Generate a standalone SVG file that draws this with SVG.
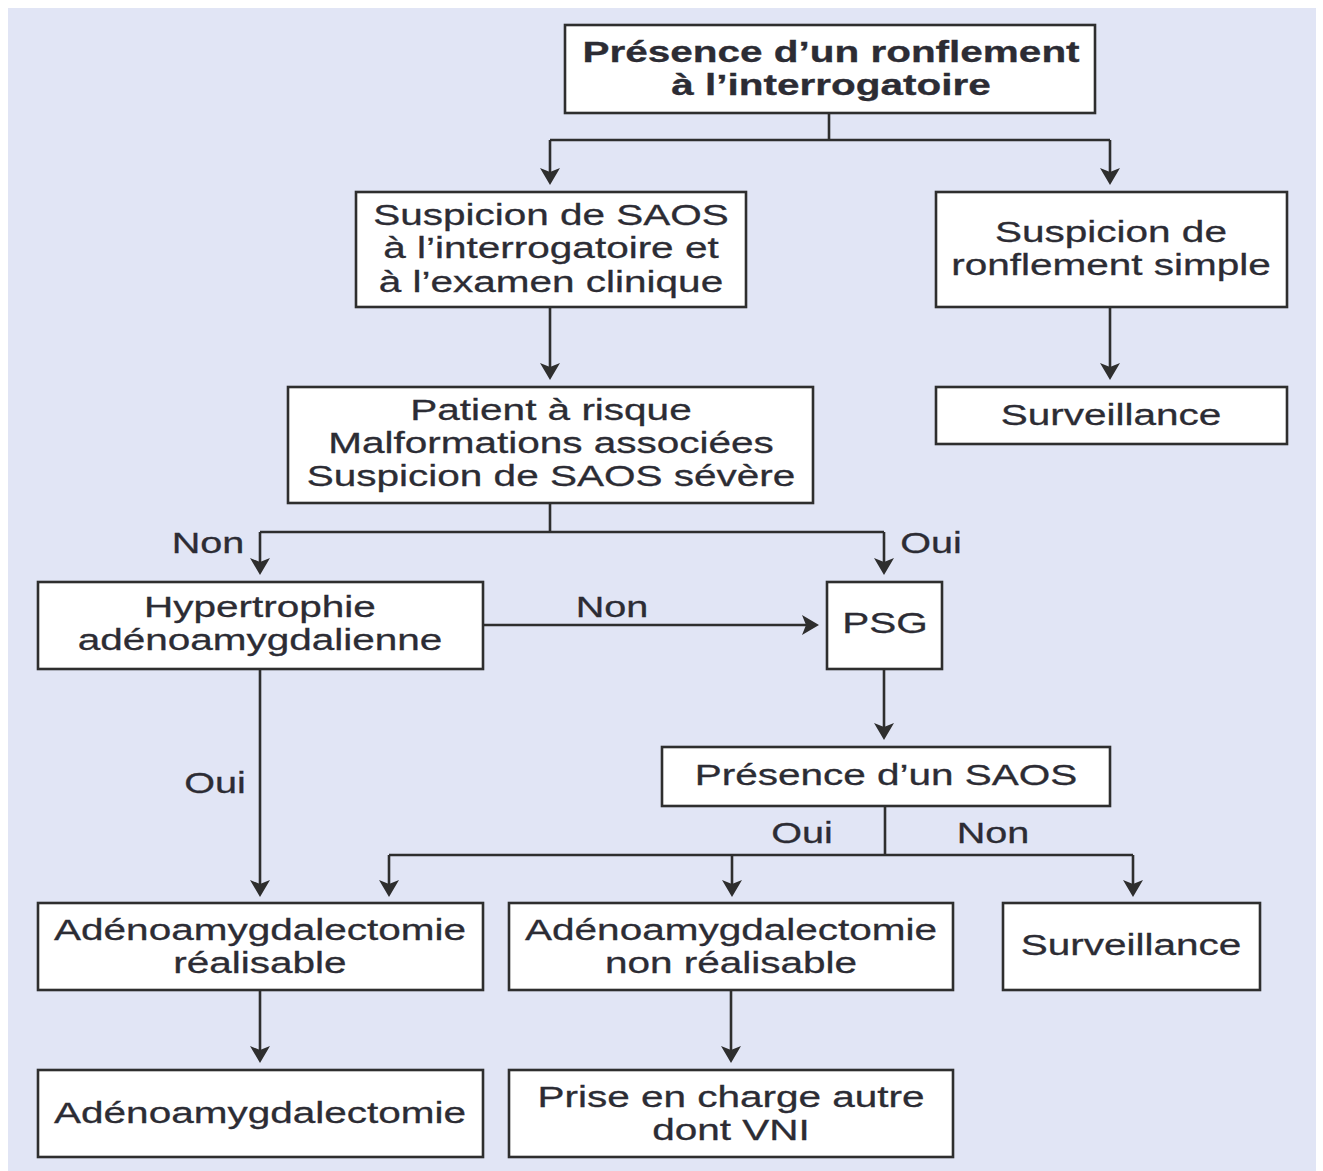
<svg xmlns="http://www.w3.org/2000/svg" width="1323" height="1171" viewBox="0 0 1323 1171">
  <defs>
    <style>
      .box { fill: #ffffff; stroke: #2e2e2e; stroke-width: 2.6; }
      .wire { fill: none; stroke: #2e2e2e; stroke-width: 2.6; }
      .arrow { marker-end: url(#head); }
      text { font-family: "Liberation Sans", Arial, sans-serif; font-size: 30px; fill: #2c2c34; text-anchor: middle; stroke: #2c2c34; stroke-width: 0.3; }
      .bold { font-weight: bold; }
    </style>
    <marker id="head" markerUnits="userSpaceOnUse" viewBox="-14 -11 19 22" markerWidth="19" markerHeight="22" refX="0" refY="0" orient="auto" overflow="visible">
      <path d="M4,0 L-13,-10 L-9,0 L-13,10 Z" fill="#2e2e2e"/>
    </marker>
  </defs>

  <!-- page -->
  <rect x="0" y="0" width="1323" height="1171" fill="#ffffff"/>
  <rect x="8" y="8" width="1308" height="1163" fill="#e1e5f5"/>

  <!-- connectors -->
  <g id="connectors">
    <path class="wire" d="M829,113 V140 M550,140 H1110"/>
    <path class="wire arrow" d="M550,140 V181"/>
    <path class="wire arrow" d="M1110,140 V181"/>
    <path class="wire arrow" d="M550,307 V376"/>
    <path class="wire arrow" d="M1110,307 V376"/>
    <path class="wire" d="M550,503 V532 M260,532 H884"/>
    <path class="wire arrow" d="M260,532 V571"/>
    <path class="wire arrow" d="M884,532 V571"/>
    <path class="wire arrow" d="M483,625 H815"/>
    <path class="wire arrow" d="M884,669 V736"/>
    <path class="wire arrow" d="M260,669 V893"/>
    <path class="wire" d="M885,806 V855 M389,855 H1133"/>
    <path class="wire arrow" d="M389,855 V893"/>
    <path class="wire arrow" d="M732,855 V893"/>
    <path class="wire arrow" d="M1133,855 V893"/>
    <path class="wire arrow" d="M260,990 V1059"/>
    <path class="wire arrow" d="M731,990 V1059"/>
  </g>

  <!-- branch labels -->
  <g id="labels">
    <text transform="matrix(1.32 0 0 1 208 553)">Non</text>
    <text transform="matrix(1.32 0 0 1 931 553)">Oui</text>
    <text transform="matrix(1.32 0 0 1 612 617)">Non</text>
    <text transform="matrix(1.32 0 0 1 215 793)">Oui</text>
    <text transform="matrix(1.32 0 0 1 802 843)">Oui</text>
    <text transform="matrix(1.32 0 0 1 993 843)">Non</text>
  </g>

  <g id="n-ronflement">
    <rect class="box" x="565" y="25" width="530" height="88"/>
    <text class="bold" transform="matrix(1.35 0 0 1 831 62)">Présence d’un ronflement</text>
    <text class="bold" transform="matrix(1.35 0 0 1 831 95)">à l’interrogatoire</text>
  </g>

  <g id="n-suspicion-saos">
    <rect class="box" x="356" y="192" width="390" height="115"/>
    <text transform="matrix(1.35 0 0 1 551 225)">Suspicion de SAOS</text>
    <text transform="matrix(1.35 0 0 1 551 258)">à l’interrogatoire et</text>
    <text transform="matrix(1.35 0 0 1 551 292)">à l’examen clinique</text>
  </g>

  <g id="n-ronflement-simple">
    <rect class="box" x="936" y="192" width="351" height="115"/>
    <text transform="matrix(1.35 0 0 1 1111 242)">Suspicion de</text>
    <text transform="matrix(1.35 0 0 1 1111 275)">ronflement simple</text>
  </g>

  <g id="n-surveillance-1">
    <rect class="box" x="936" y="387" width="351" height="57"/>
    <text transform="matrix(1.35 0 0 1 1111 425)">Surveillance</text>
  </g>

  <g id="n-patient-risque">
    <rect class="box" x="288" y="387" width="525" height="116"/>
    <text transform="matrix(1.35 0 0 1 551 420)">Patient à risque</text>
    <text transform="matrix(1.35 0 0 1 551 453)">Malformations associées</text>
    <text transform="matrix(1.35 0 0 1 551 486)">Suspicion de SAOS sévère</text>
  </g>

  <g id="n-hypertrophie">
    <rect class="box" x="38" y="582" width="445" height="87"/>
    <text transform="matrix(1.35 0 0 1 260 617)">Hypertrophie</text>
    <text transform="matrix(1.35 0 0 1 260 650)">adénoamygdalienne</text>
  </g>

  <g id="n-psg">
    <rect class="box" x="827" y="582" width="115" height="87"/>
    <text transform="matrix(1.35 0 0 1 885 633)">PSG</text>
  </g>

  <g id="n-presence-saos">
    <rect class="box" x="662" y="747" width="448" height="59"/>
    <text transform="matrix(1.35 0 0 1 886 785)">Présence d’un SAOS</text>
  </g>

  <g id="n-aa-realisable">
    <rect class="box" x="38" y="903" width="445" height="87"/>
    <text transform="matrix(1.35 0 0 1 260 940)">Adénoamygdalectomie</text>
    <text transform="matrix(1.35 0 0 1 260 973)">réalisable</text>
  </g>

  <g id="n-aa-non-realisable">
    <rect class="box" x="509" y="903" width="444" height="87"/>
    <text transform="matrix(1.35 0 0 1 731 940)">Adénoamygdalectomie</text>
    <text transform="matrix(1.35 0 0 1 731 973)">non réalisable</text>
  </g>

  <g id="n-surveillance-2">
    <rect class="box" x="1003" y="903" width="257" height="87"/>
    <text transform="matrix(1.35 0 0 1 1131 955)">Surveillance</text>
  </g>

  <g id="n-aa">
    <rect class="box" x="38" y="1070" width="445" height="87"/>
    <text transform="matrix(1.35 0 0 1 260 1123)">Adénoamygdalectomie</text>
  </g>

  <g id="n-prise-en-charge">
    <rect class="box" x="509" y="1070" width="444" height="87"/>
    <text transform="matrix(1.35 0 0 1 731 1107)">Prise en charge autre</text>
    <text transform="matrix(1.35 0 0 1 731 1140)">dont VNI</text>
  </g>
</svg>
